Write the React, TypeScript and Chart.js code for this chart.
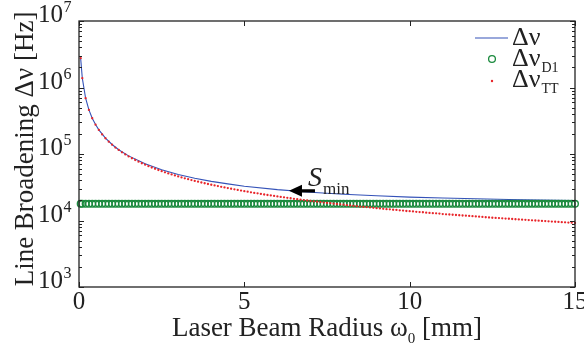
import React, { useEffect, useRef } from 'react';
import { Chart, registerables } from 'chart.js';

Chart.register(...registerables);

// ---------- data ----------
// beam radius samples (mm)
const radius = [
  0.05, 0.1, 0.2, 0.3, 0.4, 0.5, 0.6, 0.7, 0.8, 0.9, 1.0, 1.1, 1.2, 1.3, 1.4, 1.5, 1.6, 1.7, 1.8, 1.9,
  2.0, 2.1, 2.2, 2.3, 2.4, 2.5, 2.6, 2.7, 2.8, 2.9, 3.0, 3.1, 3.2, 3.3, 3.4, 3.5, 3.6, 3.7, 3.8, 3.9,
  4.0, 4.1, 4.2, 4.3, 4.4, 4.5, 4.6, 4.7, 4.8, 4.9, 5.0, 5.1, 5.2, 5.3, 5.4, 5.5, 5.6, 5.7, 5.8, 5.9,
  6.0, 6.1, 6.2, 6.3, 6.4, 6.5, 6.6, 6.7, 6.8, 6.9, 7.0, 7.1, 7.2, 7.3, 7.4, 7.5, 7.6, 7.7, 7.8, 7.9,
  8.0, 8.1, 8.2, 8.3, 8.4, 8.5, 8.6, 8.7, 8.8, 8.9, 9.0, 9.1, 9.2, 9.3, 9.4, 9.5, 9.6, 9.7, 9.8, 9.9,
  10.0, 10.1, 10.2, 10.3, 10.4, 10.5, 10.6, 10.7, 10.8, 10.9, 11.0, 11.1, 11.2, 11.3, 11.4, 11.5, 11.6, 11.7, 11.8, 11.9,
  12.0, 12.1, 12.2, 12.3, 12.4, 12.5, 12.6, 12.7, 12.8, 12.9, 13.0, 13.1, 13.2, 13.3, 13.4, 13.5, 13.6, 13.7, 13.8, 13.9,
  14.0, 14.1, 14.2, 14.3, 14.4, 14.5, 14.6, 14.7, 14.8, 14.9, 15.0,
];

// transit-time broadening Δν_TT (Hz), red dots
const dnuTT = [
  2760000, 1380000, 690000, 460000, 345000, 276000, 230000, 197000, 172500, 153000, 138000, 125000, 115000, 106000, 98600, 92000, 86250, 81200, 76700, 72600,
  69000, 65700, 62700, 60000, 57500, 55200, 53100, 51100, 49300, 47600, 46000, 44500, 43100, 41800, 40600, 39400, 38300, 37300, 36300, 35400,
  34500, 33700, 32900, 32100, 31400, 30700, 30000, 29400, 28800, 28200, 27600, 27100, 26500, 26000, 25600, 25100, 24600, 24200, 23800, 23400,
  23000, 22600, 22300, 21900, 21600, 21200, 20900, 20600, 20300, 20000, 19700, 19400, 19200, 18900, 18600, 18400, 18200, 17900, 17700, 17500,
  17300, 17000, 16800, 16600, 16400, 16200, 16000, 15900, 15700, 15500, 15300, 15200, 15000, 14800, 14700, 14500, 14400, 14200, 14100, 13900,
  13800, 13700, 13500, 13400, 13300, 13100, 13000, 12900, 12800, 12700, 12500, 12400, 12300, 12200, 12100, 12000, 11900, 11800, 11700, 11600,
  11500, 11400, 11300, 11200, 11100, 11000, 10950, 10870, 10780, 10700, 10620, 10530, 10450, 10380, 10300, 10220, 10150, 10070, 10000, 9930,
  9860, 9790, 9720, 9650, 9580, 9520, 9450, 9390, 9320, 9260, 9200,
];

// D1 line broadening Δν_D1 (Hz), green circles
const dnuD1 = [
  17800, 17800, 17800, 17800, 17800, 17800, 17800, 17800, 17800, 17800, 17800, 17800, 17800, 17800, 17800, 17800, 17800, 17800, 17800, 17800,
  17800, 17800, 17800, 17800, 17800, 17800, 17800, 17800, 17800, 17800, 17800, 17800, 17800, 17800, 17800, 17800, 17800, 17800, 17800, 17800,
  17800, 17800, 17800, 17800, 17800, 17800, 17800, 17800, 17800, 17800, 17800, 17800, 17800, 17800, 17800, 17800, 17800, 17800, 17800, 17800,
  17800, 17800, 17800, 17800, 17800, 17800, 17800, 17800, 17800, 17800, 17800, 17800, 17800, 17800, 17800, 17800, 17800, 17800, 17800, 17800,
  17800, 17800, 17800, 17800, 17800, 17800, 17800, 17800, 17800, 17800, 17800, 17800, 17800, 17800, 17800, 17800, 17800, 17800, 17800, 17800,
  17800, 17800, 17800, 17800, 17800, 17800, 17800, 17800, 17800, 17800, 17800, 17800, 17800, 17800, 17800, 17800, 17800, 17800, 17800, 17800,
  17800, 17800, 17800, 17800, 17800, 17800, 17800, 17800, 17800, 17800, 17800, 17800, 17800, 17800, 17800, 17800, 17800, 17800, 17800, 17800,
  17800, 17800, 17800, 17800, 17800, 17800, 17800, 17800, 17800, 17800, 17800,
];

// total broadening Δν (Hz), blue line
const radiusTotal = [0.05, 0.1, 0.2, 0.3, 0.4, 0.5, 0.6, 0.8, 1.0, 1.2, 1.5, 2.0, 2.5, 3.0, 3.5, 4.0, 4.5, 5.0, 6.0, 7.0, 8.0, 9.0, 10, 11, 12, 13, 14, 15];
const dnuTotal = [2760000, 1380000, 690000, 460000, 345000, 277000, 231000, 173000, 139000, 116000, 93700, 71300, 58000, 49300, 43300, 38800, 35500, 32800, 29100, 26600, 24800, 23500, 22500, 21800, 21200, 20700, 20300, 20000];

const xTickValues = [0, 5, 10, 15];
const yDecades = [3, 4, 5, 6, 7];
const sminAnchor = { x: 6.35, y: 27900 };

// ---------- styles ----------
const FONT = '"Liberation Serif", "DejaVu Serif", serif';
const INK = '#222222';
const BLUE = '#3452b8';
const GREEN = '#1b8a3e';
const RED = '#e8252a';

function txt(ctx: CanvasRenderingContext2D, s: string, x: number, y: number, size: number, align: CanvasTextAlign = 'left', italic = false) {
  ctx.font = `${italic ? 'italic ' : ''}${size}px ${FONT}`;
  ctx.textAlign = align;
  ctx.textBaseline = 'alphabetic';
  ctx.fillText(s, x, y);
  return ctx.measureText(s).width;
}

const decorPlugin = {
  id: 'decor',
  afterDraw(chart: any) {
    const ctx: CanvasRenderingContext2D = chart.ctx;
    const { left, right, top, bottom } = chart.chartArea;
    const xs = chart.scales.x;
    const ys = chart.scales.y;
    ctx.save();
    ctx.strokeStyle = INK;
    ctx.fillStyle = INK;
    ctx.lineWidth = 1.3;
    ctx.strokeRect(left, top, right - left, bottom - top);

    // ticks (inside, all four sides)
    ctx.lineWidth = 1;
    ctx.beginPath();
    for (const v of xTickValues) {
      const px = Math.round(xs.getPixelForValue(v)) + 0.5;
      ctx.moveTo(px, bottom); ctx.lineTo(px, bottom - 5);
      ctx.moveTo(px, top); ctx.lineTo(px, top + 5);
    }
    for (const e of yDecades) {
      const py = Math.round(ys.getPixelForValue(Math.pow(10, e))) + 0.5;
      ctx.moveTo(left, py); ctx.lineTo(left + 5, py);
      ctx.moveTo(right, py); ctx.lineTo(right - 5, py);
      if (e < yDecades[yDecades.length - 1]) {
        for (let m = 2; m <= 9; m++) {
          const pm = Math.round(ys.getPixelForValue(m * Math.pow(10, e))) + 0.5;
          ctx.moveTo(left, pm); ctx.lineTo(left + 3, pm);
          ctx.moveTo(right, pm); ctx.lineTo(right - 3, pm);
        }
      }
    }
    ctx.stroke();

    // y tick labels 10^e
    for (const e of yDecades) {
      const py = ys.getPixelForValue(Math.pow(10, e));
      txt(ctx, '10', 63, py + 1, 25, 'right');
      txt(ctx, String(e), 63.5, py - 9, 16, 'left');
    }
    // x tick labels
    for (const v of xTickValues) {
      txt(ctx, String(v), xs.getPixelForValue(v), 309, 25, 'center');
    }

    // x axis title: Laser Beam Radius ω0 [mm]
    {
      const size = 27;
      ctx.font = `${size}px ${FONT}`;
      const a = 'Laser Beam Radius ω';
      const b = ' [mm]';
      const wa = ctx.measureText(a).width;
      const wb = ctx.measureText(b).width;
      ctx.font = `15px ${FONT}`;
      const ws = ctx.measureText('0').width;
      const total = wa + ws + wb;
      const x0 = (left + right) / 2 - total / 2;
      const base = 336;
      txt(ctx, a, x0, base, size);
      txt(ctx, '0', x0 + wa, base + 7, 15);
      txt(ctx, b, x0 + wa + ws, base, size);
    }

    // y axis title: Line Broadening Δν [Hz]
    {
      ctx.save();
      ctx.translate(33, (top + bottom) / 2 - 5);
      ctx.rotate(-Math.PI / 2);
      txt(ctx, 'Line Broadening Δν [Hz]', 0, 0, 27, 'center');
      ctx.restore();
    }

    // legend
    {
      ctx.strokeStyle = BLUE;
      ctx.lineWidth = 1.2;
      ctx.beginPath();
      ctx.moveTo(475, 38); ctx.lineTo(508, 38);
      ctx.stroke();
      ctx.fillStyle = INK;
      txt(ctx, 'Δν', 512, 45, 26);
      ctx.strokeStyle = GREEN;
      ctx.lineWidth = 1.3;
      ctx.beginPath();
      ctx.arc(492, 59, 3.4, 0, Math.PI * 2);
      ctx.stroke();
      const w1 = txt(ctx, 'Δν', 512, 66, 26);
      txt(ctx, 'D1', 512 + w1 + 1, 72, 14);
      ctx.fillStyle = RED;
      ctx.beginPath();
      ctx.arc(492, 81, 1.2, 0, Math.PI * 2);
      ctx.fill();
      ctx.fillStyle = INK;
      const w2 = txt(ctx, 'Δν', 512, 87, 26);
      txt(ctx, 'TT', 512 + w2 + 1, 93, 14);
    }

    // S_min annotation with arrow
    {
      const tx = xs.getPixelForValue(sminAnchor.x);
      const ty = ys.getPixelForValue(sminAnchor.y);
      ctx.fillStyle = '#000';
      ctx.beginPath();
      ctx.moveTo(tx, ty);
      ctx.lineTo(tx + 13, ty - 6);
      ctx.lineTo(tx + 13, ty - 1.7);
      ctx.lineTo(tx + 26, ty - 1.7);
      ctx.lineTo(tx + 26, ty + 1.7);
      ctx.lineTo(tx + 13, ty + 1.7);
      ctx.lineTo(tx + 13, ty + 6);
      ctx.closePath();
      ctx.fill();
      ctx.fillStyle = INK;
      const ws = txt(ctx, 'S', tx + 19, ty - 5, 28, 'left', true);
      txt(ctx, 'min', tx + 19 + ws + 1, ty + 3, 17);
    }
    ctx.restore();
  },
};

export default function App() {
  const ref = useRef<HTMLCanvasElement | null>(null);
  useEffect(() => {
    document.body.style.margin = '0';
    const canvas = ref.current!;
    const chart = new Chart(canvas, {
      type: 'scatter',
      data: {
        datasets: [
          {
            label: 'Δν',
            data: radiusTotal.map((x, i) => ({ x, y: dnuTotal[i] })),
            showLine: true,
            borderColor: BLUE,
            borderWidth: 1.1,
            pointRadius: 0,
            order: 3,
            clip: false as any,
          },
          {
            label: 'Δν_D1',
            data: radius.map((x, i) => ({ x, y: dnuD1[i] })),
            showLine: false,
            borderColor: GREEN,
            backgroundColor: 'rgba(0,0,0,0)',
            borderWidth: 1.4,
            pointRadius: 3.3,
            order: 2,
            clip: false as any,
          },
          {
            label: 'Δν_TT',
            data: radius.map((x, i) => ({ x, y: dnuTT[i] })),
            showLine: false,
            backgroundColor: RED,
            borderColor: RED,
            borderWidth: 0,
            pointRadius: 1.15,
            order: 1,
            clip: false as any,
          },
        ],
      },
      options: {
        animation: false,
        responsive: false,
        devicePixelRatio: 1,
        events: [],
        layout: { padding: { left: 79, right: 9, top: 21, bottom: 60 } },
        plugins: { legend: { display: false }, tooltip: { enabled: false } },
        scales: {
          x: { type: 'linear', min: 0, max: 15, display: false },
          y: { type: 'logarithmic', min: 1e3, max: 1e7, display: false },
        },
      },
      plugins: [decorPlugin],
    });
    return () => chart.destroy();
  }, []);
  return <canvas ref={ref} width={584} height={347} style={{ display: 'block' }} />;
}
